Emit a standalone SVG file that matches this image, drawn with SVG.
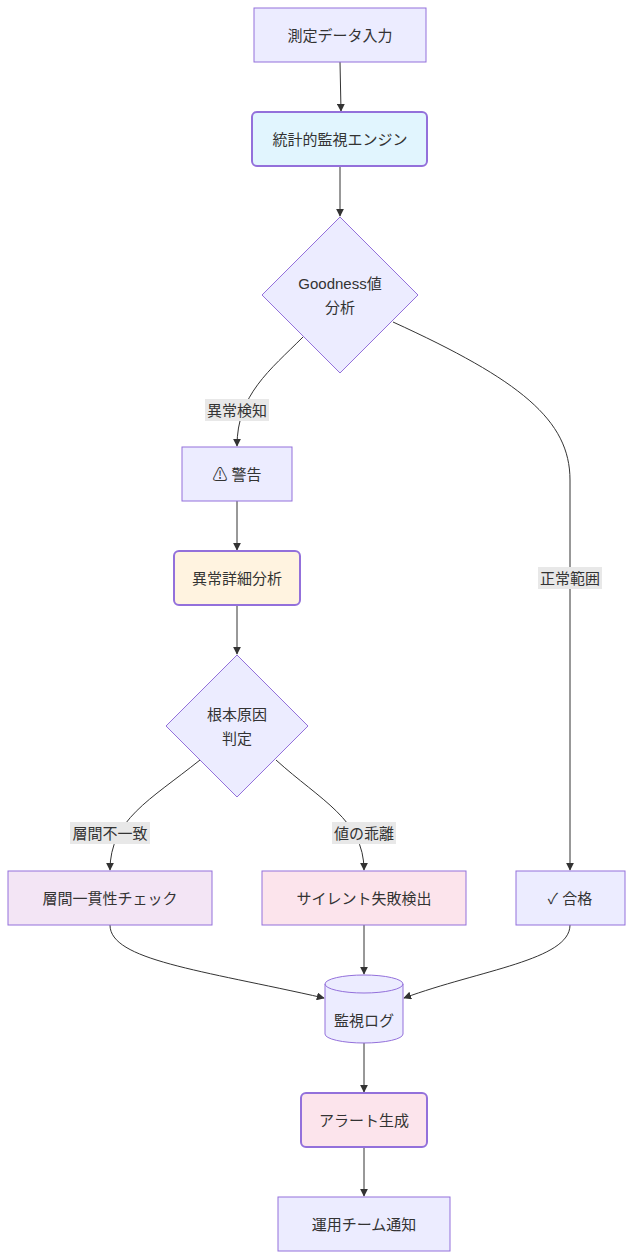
<svg xmlns="http://www.w3.org/2000/svg" width="633" height="1259" viewBox="0 0 633 1259">
<style>
text{font-family:"Liberation Sans","Noto Sans CJK JP",sans-serif;font-size:15px;fill:#333;text-anchor:middle;dominant-baseline:central}
.n{fill:#ECECFF;stroke:#9370DB;stroke-width:1}
.h{stroke:#9370DB;stroke-width:2}
.e{fill:none;stroke:#333;stroke-width:1}
.lb{fill:#e8e8e8}
</style>
<defs><marker id="a" viewBox="0 0 10 10" refX="9" refY="5" markerWidth="8" markerHeight="8" orient="auto"><path d="M0,0L10,5L0,10z" fill="#333"/></marker></defs>
<rect width="633" height="1259" fill="#fff"/>
<g id="connectors">
<path class="e" d="M340,62L341,111" marker-end="url(#a)"/>
<path class="e" d="M340,166L340,216" marker-end="url(#a)"/>
<path class="e" d="M303,337C270,370 237,395 237,446" marker-end="url(#a)"/>
<path class="e" d="M393,322C520,380 570,420 570,480L570,870" marker-end="url(#a)"/>
<path class="e" d="M237,501L237,550" marker-end="url(#a)"/>
<path class="e" d="M237,605L237,654" marker-end="url(#a)"/>
<path class="e" d="M200,760C150,800 110,820 110,870" marker-end="url(#a)"/>
<path class="e" d="M276,760C320,800 364,820 364,870" marker-end="url(#a)"/>
<path class="e" d="M110,925C110,960 200,970 324,998" marker-end="url(#a)"/>
<path class="e" d="M364,925L364,974" marker-end="url(#a)"/>
<path class="e" d="M570,925C570,960 480,970 404,998" marker-end="url(#a)"/>
<path class="e" d="M364,1042L364,1092" marker-end="url(#a)"/>
<path class="e" d="M364,1147L364,1196" marker-end="url(#a)"/>
<rect class="lb" x="205" y="399" width="64" height="22"/><text x="237" y="410">異常検知</text>
<rect class="lb" x="538" y="567" width="64" height="22"/><text x="570" y="578">正常範囲</text>
<rect class="lb" x="70" y="822" width="80" height="22"/><text x="110" y="833">層間不一致</text>
<rect class="lb" x="332" y="822" width="64" height="22"/><text x="364" y="833">値の乖離</text>
</g>
<g id="n1"><rect class="n" x="254" y="8" width="172" height="54"/><text x="340" y="35">測定データ入力</text></g>
<g id="n2"><rect class="n h" x="252" y="112" width="175" height="54" rx="5" fill="#E1F5FE" style="fill:#E1F5FE"/><text x="340" y="139">統計的監視エンジン</text></g>
<g id="d1"><path class="n" d="M340,217L418,295L340,373L262,295z"/><text x="340" y="283">Goodness値</text><text x="340" y="307">分析</text></g>
<g id="warn"><rect class="n" x="182" y="447" width="110" height="54"/><text x="237" y="474">⚠ 警告</text></g>
<g id="detail"><rect class="n h" x="174" y="551" width="126" height="54" rx="5" style="fill:#FFF3E0"/><text x="237" y="578">異常詳細分析</text></g>
<g id="d2"><path class="n" d="M237,655L308,726L237,797L166,726z"/><text x="237" y="714">根本原因</text><text x="237" y="738">判定</text></g>
<g id="layer"><rect class="n" x="8" y="871" width="204" height="54" style="fill:#F3E5F5"/><text x="110" y="898">層間一貫性チェック</text></g>
<g id="silent"><rect class="n" x="262" y="871" width="204" height="54" style="fill:#FCE4EC"/><text x="364" y="898">サイレント失敗検出</text></g>
<g id="pass"><rect class="n" x="516" y="871" width="109" height="54"/><text x="570" y="898">✓ 合格</text></g>
<g id="log"><path class="n" d="M325,984A39,9 0 0 1 403,984L403,1034A39,9 0 0 1 325,1034z"/><path class="n" d="M325,984A39,9 0 0 0 403,984" fill="none" style="fill:none"/><text x="364" y="1020">監視ログ</text></g>
<g id="alert"><rect class="n h" x="301" y="1093" width="126" height="54" rx="5" style="fill:#FCE4EC"/><text x="364" y="1120">アラート生成</text></g>
<g id="notify"><rect class="n" x="278" y="1197" width="172" height="54"/><text x="364" y="1224">運用チーム通知</text></g>
</svg>
